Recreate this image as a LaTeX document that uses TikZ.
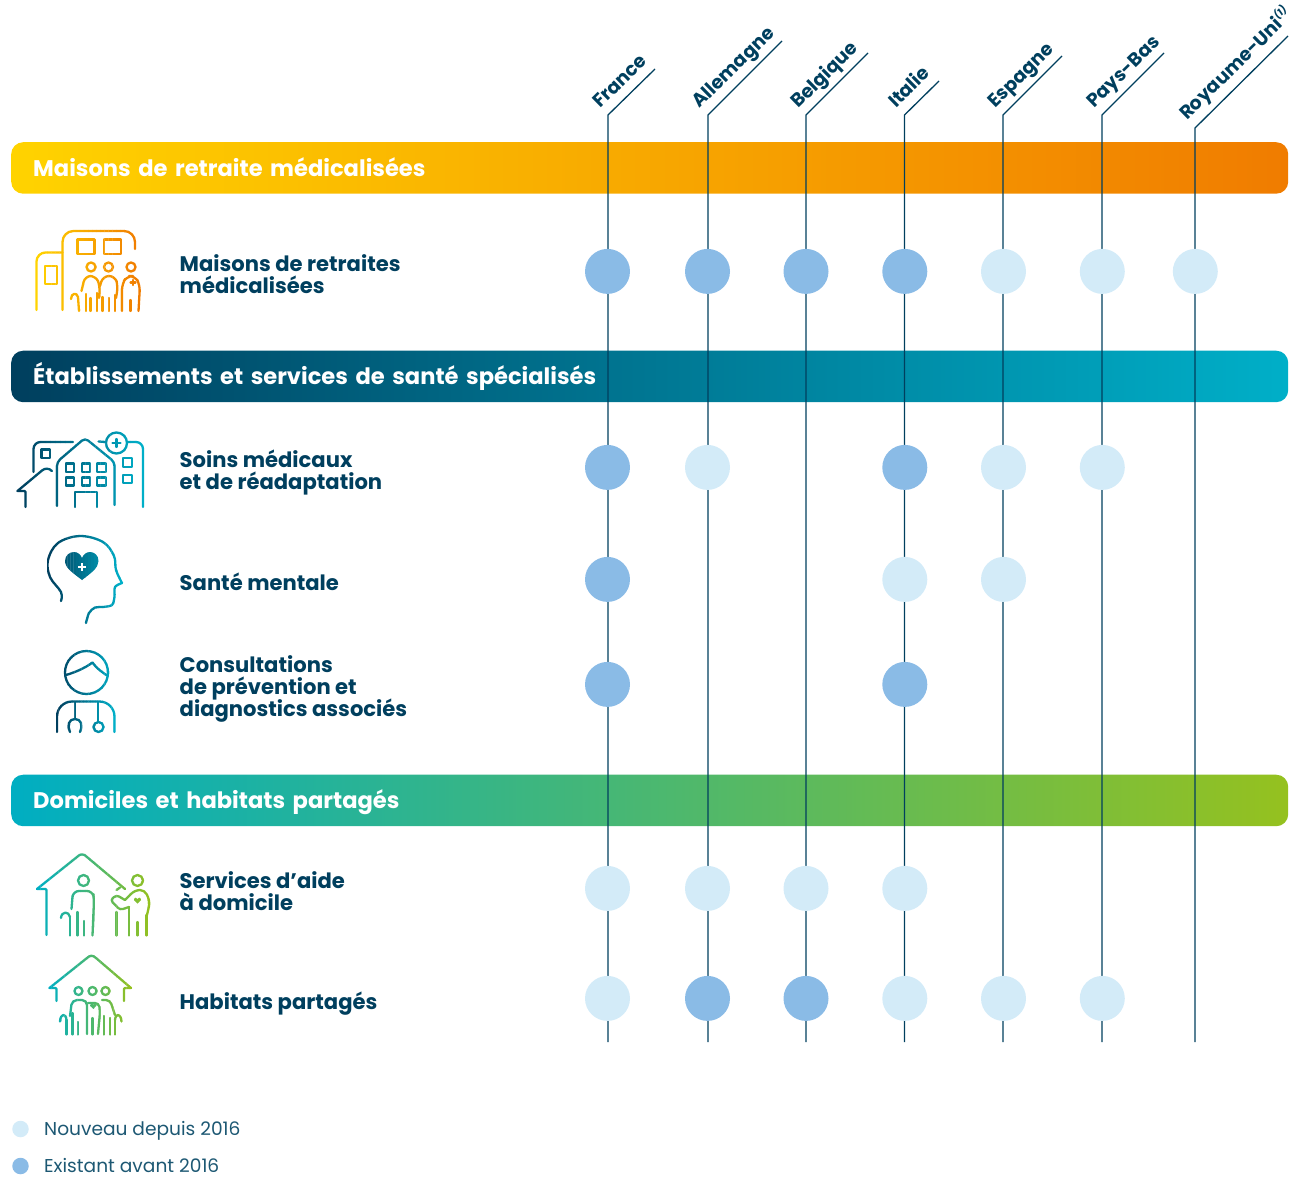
\documentclass[tikz,border=0pt]{standalone}
\usepackage{fontspec}
\setmainfont{Poppins}
\usetikzlibrary{calc}
\normallineskiplimit=-10pt
\definecolor{navy}{HTML}{003F5E}
\definecolor{legendtxt}{HTML}{1D5873}
\definecolor{dotold}{HTML}{8ABBE6}
\definecolor{dotnew}{HTML}{D3EBF8}
\definecolor{goldA}{HTML}{FFD300}
\definecolor{goldB}{HTML}{F07C00}
\definecolor{tealA}{HTML}{003F5E}
\definecolor{tealB}{HTML}{00AFC8}
\definecolor{greenA}{HTML}{00AEC2}
\definecolor{greenM}{HTML}{55B882}
\definecolor{greenB}{HTML}{95C11F}
\tikzset{
  barbox/.style={anchor=north west,minimum width=1277pt,minimum height=51.5pt,text width=1233pt,inner xsep=22pt,inner ysep=0pt,rounded corners=12pt,text=white,align=left,text height=21pt,text depth=4pt,font=\fontsize{22.6}{24}\selectfont\bfseries},
  rowlabel/.style={anchor=west,inner sep=0pt,text=navy,align=left,execute at begin node={\lineskiplimit=-10pt },font=\fontsize{21.1}{22}\selectfont\bfseries},
  country/.style={anchor=base west,rotate=44.5,inner sep=0pt,text=navy,font=\fontsize{18.8}{20}\selectfont\bfseries},
  colline/.style={draw=navy,line width=1.3pt},
  newdot/.style={circle,fill=dotnew,minimum size=45pt,inner sep=0pt},
  olddot/.style={circle,fill=dotold,minimum size=45pt,inner sep=0pt},
  icn/.style={draw=icncol,line width=2.3pt,line cap=round,line join=round},
  icnfill/.style={fill=icncol},
  legendtext/.style={anchor=base west,inner sep=0pt,text=legendtxt,font=\fontsize{18.6}{22}\selectfont}
}
% draws #5 cut in thin upright slices, so the stroke colour runs from #3 to #4
\newcommand\iconslices[5]{
  \foreach \s in {0,...,25} {
    \pgfmathsetmacro\xa{#1+(#2-#1)*\s/26}
    \pgfmathsetmacro\xb{#1+(#2-#1)*(\s+1)/26+0.25}
    \pgfmathtruncatemacro\pc{100*\s/25}
    \colorlet{icncol}{#4!\pc!#3}
    \begin{scope}
      \clip (\xa,0) rectangle (\xb,1176);
      #5
    \end{scope}
  }
}
\begin{document}
\begin{tikzpicture}[x=1pt,y=-1pt]
\useasboundingbox (0,0) rectangle (1290,1176);
% bands
\node (barA) [barbox,left color=goldA,right color=goldB] at (11,142) {Maisons de retraite médicalisées};
\node (barB) [barbox,left color=tealA,right color=tealB] at (11,350.5) {Établissements et services de santé spécialisés};
\node (barC) [barbox,left color=greenA,middle color=greenM,right color=greenB] at (11,774.5) {Domiciles et habitats partagés};
% country columns
\coordinate (fraTip) at (655,69);   \coordinate (fraTop) at (608,115);  \coordinate (fraEnd) at (608,1042);
\coordinate (allTip) at (782,41);   \coordinate (allTop) at (708,115);  \coordinate (allEnd) at (708,1042);
\coordinate (belTip) at (868,53);   \coordinate (belTop) at (806,115);  \coordinate (belEnd) at (806,1042);
\coordinate (itaTip) at (939,81);   \coordinate (itaTop) at (904.5,115);\coordinate (itaEnd) at (904.5,1042);
\coordinate (espTip) at (1062,56);  \coordinate (espTop) at (1003,115); \coordinate (espEnd) at (1003,1042);
\coordinate (payTip) at (1164,53);  \coordinate (payTop) at (1102,115); \coordinate (payEnd) at (1102,1042);
\coordinate (royTip) at (1288,36);  \coordinate (royTop) at (1195,128); \coordinate (royEnd) at (1195,1042);
\draw[colline] (fraTip)--(fraTop)--(fraEnd);
\draw[colline] (allTip)--(allTop)--(allEnd);
\draw[colline] (belTip)--(belTop)--(belEnd);
\draw[colline] (itaTip)--(itaTop)--(itaEnd);
\draw[colline] (espTip)--(espTop)--(espEnd);
\draw[colline] (payTip)--(payTop)--(payEnd);
\draw[colline] (royTip)--(royTop)--(royEnd);
\node (fra) [country] at (600.5,109) {France};
\node (all) [country] at (699.5,109) {Allemagne};
\node (bel) [country] at (798.5,109) {Belgique};
\node (ita) [country] at (896,109) {Italie};
\node (esp) [country] at (995.5,109) {Espagne};
\node (pay) [country] at (1094,109) {Pays-Bas};
\node (roy) [country] at (1187,121) {Royaume-Uni\raisebox{.8ex}{\fontsize{10}{10}\selectfont\itshape(1)}};
% row labels
\node (lblRetraite) [rowlabel] at (179.5,274.5) {Maisons de retraites\\médicalisées};
\node (lblSoins) [rowlabel] at (179.5,472) {Soins médicaux\\et de réadaptation};
\node (lblMentale) [rowlabel] at (179.5,582) {Santé mentale};
\node (lblConsult) [rowlabel] at (179.5,689) {Consultations\\de prévention et\\diagnostics associés};
\node (lblAide) [rowlabel] at (179.5,891) {Services d’aide\\à domicile};
\node (lblHabitat) [rowlabel] at (179.5,1004) {Habitats partagés};
% dots
\node (fraA) [olddot] at (607.5,271.4) {};
\node (allA) [olddot] at (707.5,271.4) {};
\node (belA) [olddot] at (806,271.4) {};
\node (itaA) [olddot] at (904.8,271.4) {};
\node (espA) [newdot] at (1003.5,271.4) {};
\node (payA) [newdot] at (1102.3,271.4) {};
\node (royA) [newdot] at (1195.3,271.4) {};
\node (fraB) [olddot] at (607.5,467.4) {};
\node (allB) [newdot] at (707.5,467.4) {};
\node (itaB) [olddot] at (904.8,467.4) {};
\node (espB) [newdot] at (1003.5,467.4) {};
\node (payB) [newdot] at (1102.3,467.4) {};
\node (fraC) [olddot] at (607.5,579.4) {};
\node (itaC) [newdot] at (904.8,579.4) {};
\node (espC) [newdot] at (1003.5,579.4) {};
\node (fraD) [olddot] at (607.5,684.4) {};
\node (itaD) [olddot] at (904.8,684.4) {};
\node (fraE) [newdot] at (607.5,888.4) {};
\node (allE) [newdot] at (707.5,888.4) {};
\node (belE) [newdot] at (806,888.4) {};
\node (itaE) [newdot] at (904.8,888.4) {};
\node (fraF) [newdot] at (607.5,998.4) {};
\node (allF) [olddot] at (707.5,998.4) {};
\node (belF) [olddot] at (806,998.4) {};
\node (itaF) [newdot] at (904.8,998.4) {};
\node (espF) [newdot] at (1003.5,998.4) {};
\node (payF) [newdot] at (1102.3,998.4) {};
% legend
\node (keyNew) [newdot,minimum size=16.5pt] at (20.5,1129) {};
\node (keyOld) [olddot,minimum size=16.5pt] at (20.5,1166) {};
\node (txtNew) [legendtext] at (44,1135) {Nouveau depuis 2016};
\node (txtOld) [legendtext] at (44,1172) {Existant avant 2016};
% icon: nursing home
\iconslices{35}{141}{goldA}{goldB}{
  \draw[icn,rounded corners=9pt] (36.5,310)--(36.5,252.5)--(62.5,252.5);
  \draw[icn,rounded corners=11pt] (62.5,310)--(62.5,231)--(135,231)--(135,249);
  \draw[icn] (77.5,239.5) rectangle (94.5,254);
  \draw[icn] (104,239.5) rectangle (121,254);
  \draw[icn] (45,266) rectangle (57,284);
  \draw[icn] (91,267) circle (4.5);
  \draw[icn] (108.5,267) circle (4.5);
  \draw[icn] (131,267) circle (4.5);
  \draw[icn,rounded corners=6pt] (81.5,291)--(85,276)--(96,276)--(100,286)--(99,298);
  \draw[icn,rounded corners=6pt] (100,286)--(103,276)--(115,276)--(118,286)--(116,298);
  \draw[icn,rounded corners=6pt] (122,311)--(122,284)--(127,276)--(135,276)--(140,285)--(138.5,311);
  \draw[icn] (133,280)--(133,285) (130.5,282.5)--(135.5,282.5);
  \draw[icn] (86,294)--(86,311) (90.5,298)--(90.5,311) (97,293)--(97,311) (102.5,297)--(102.5,311);
  \draw[icn] (109,298)--(109,311) (115,295)--(115,311) (130.5,300)--(130.5,311);
  \draw[icn] (71,299) .. controls (71,293) and (77,292) .. (78,297)--(79,311);
}
% icon: hospital
\iconslices{16}{145}{tealA}{tealB}{
  \draw[icn,rounded corners=7pt] (33.5,472)--(33.5,442)--(73,442);
  \draw[icn] (41.5,449.5) rectangle (50,458);
  \draw[icn,rounded corners=1pt] (25.5,507)--(25.5,491)--(17.5,491);
  \draw[icn] (17.5,491)--(42,470.5) .. controls (45,468) and (49,468) .. (52,471);
  \draw[icn,rounded corners=4pt] (57,506)--(57,462)--(85,438)--(114.5,462)--(114.5,505);
  \draw[icn] (66,463.5) rectangle (74,472) (82,463.5) rectangle (90,472) (97,463.5) rectangle (106,472);
  \draw[icn] (66,477.5) rectangle (74,485.5) (82,477.5) rectangle (90,485.5) (97,477.5) rectangle (106,485.5);
  \draw[icn] (75,507)--(75,492)--(97,492)--(97,507);
  \draw[icn] (98.5,441.5)--(105.5,442);
  \draw[icn] (116.5,443) circle (10.5);
  \draw[icn] (116.5,439)--(116.5,447) (112.5,443)--(120.5,443);
  \draw[icn,rounded corners=7pt] (127,442)--(143,442)--(143,507);
  \draw[icn] (123,458) rectangle (132,467) (123,475) rectangle (132,483);
}
% icon: mental health
\iconslices{47}{123}{tealA}{tealB}{
  \draw[icn] plot[smooth,tension=.6] coordinates {(61,601) (61,592) (50,577) (48,560) (58,543) (80,536) (103,542) (114,556) (116,570) (122,583)};
  \draw[icn] plot[smooth,tension=.5] coordinates {(122,583) (115,587) (114.5,597) (112,605) (103,607) (95,607.5) (89,613) (86,623)};
  \fill[icnfill] (82,580) .. controls (73,573) and (65,568) .. (65,561) .. controls (65,555) and (70,552) .. (74,552) .. controls (78,552) and (81,555) .. (82,558) .. controls (83,555) and (86,552) .. (90,552) .. controls (94,552) and (98.5,555) .. (98.5,561) .. controls (98.5,568) and (91,573) .. (82,580);
  \draw[white,line width=1.7pt] (82,563)--(82,571) (78,567)--(86,567);
}
% icon: doctor
\iconslices{56}{116}{tealA}{tealB}{
  \draw[icn] (86.5,672.5) circle (21.5);
  \draw[icn] (66,675) .. controls (76,672) and (85,668) .. (92.5,662.5) .. controls (96,668) and (102,672) .. (107,675.5);
  \draw[icn,rounded corners=15pt] (57,732)--(57,701.5)--(114.5,701.5)--(114.5,732);
  \draw[icn] (75,702)--(75,719);
  \draw[icn] (70,732) .. controls (67,725) and (69,719) .. (75,719) .. controls (81,719) and (83,725) .. (80,732);
  \draw[icn] (98,702)--(98,722);
  \draw[icn] (98.5,727) circle (5);
}
% icon: home care
\iconslices{36}{152}{greenA}{greenB}{
  \draw[icn,rounded corners=1pt] (46.5,935)--(46.5,889)--(37,889);
  \draw[icn] (37,889)--(77,857) .. controls (80,853.5) and (84,853.5) .. (87,857)--(125,889);
  \draw[icn] (116.5,890)--(120,887.5);
  \draw[icn] (83.5,880.5) circle (5.5);
  \draw[icn,rounded corners=6pt] (71.5,909)--(73,891)--(93,891)--(94,900)--(92.5,935.5);
  \draw[icn] (70,917)--(70,935.5) (77.5,912)--(77.5,935.5) (84,921)--(84,935.5);
  \draw[icn] (61,918) .. controls (61.5,911) and (69,911) .. (70,917);
  \draw[icn] (137.5,880.5) circle (5.5);
  \draw[icn,rounded corners=3pt] (129,907)--(120,910)--(110.5,900)--(116.5,895)--(125,900);
  \draw[icn,rounded corners=5pt] (125,900)--(135,890)--(145,890)--(150,902)--(147,915);
  \draw[icn] (116.5,912)--(116.5,935.5) (129,907)--(129,935.5) (137.5,922)--(137.5,935.5) (146.5,915)--(146.5,935.5);
  \fill[icnfill] (137.5,903.5) -- (134,900) .. controls (134,897) and (137,897) .. (137.5,899) .. controls (138,897) and (141,897) .. (141,900) -- cycle;
}
% icon: shared housing
\iconslices{48}{133}{greenA}{greenB}{
  \draw[icn,rounded corners=1pt] (56.5,1001)--(56.5,988)--(49.5,988);
  \draw[icn] (49.5,988)--(87,958) .. controls (90,955) and (93,955) .. (96,958)--(131,988);
  \draw[icn,rounded corners=1pt] (131,988)--(124,988)--(124,1001);
  \draw[icn] (78.5,991) circle (4) (92.5,991) circle (4) (105.5,991) circle (4);
  \draw[icn,rounded corners=5pt] (70,1016)--(72,1000)--(87,1000)--(87,1034);
  \draw[icn,rounded corners=4pt] (88,1003)--(99,1003)--(100,1012)--(98,1034);
  \draw[icn,rounded corners=4pt] (102,1000)--(110,1000)--(115,1015);
  \draw[icn] (66.5,1020)--(66.5,1034.5) (72.5,1013)--(72.5,1034.5) (78,1022)--(78,1034.5);
  \draw[icn] (92.5,1018)--(92.5,1034.5) (104,1016)--(104,1034.5) (110,1018)--(110,1034.5) (115,1020)--(115,1034.5);
  \draw[icn] (60,1021.5) .. controls (60.5,1013) and (66,1013) .. (66.5,1020);
  \draw[icn] (121.5,1021.5) .. controls (121,1013) and (115.5,1013) .. (115,1020);
  \fill[icnfill] (93.3,1009) -- (90,1005.5) .. controls (90,1003) and (93,1003) .. (93.3,1004.5) .. controls (93.6,1003) and (96.6,1003) .. (96.6,1005.5) -- cycle;
}
\end{tikzpicture}
\end{document}
